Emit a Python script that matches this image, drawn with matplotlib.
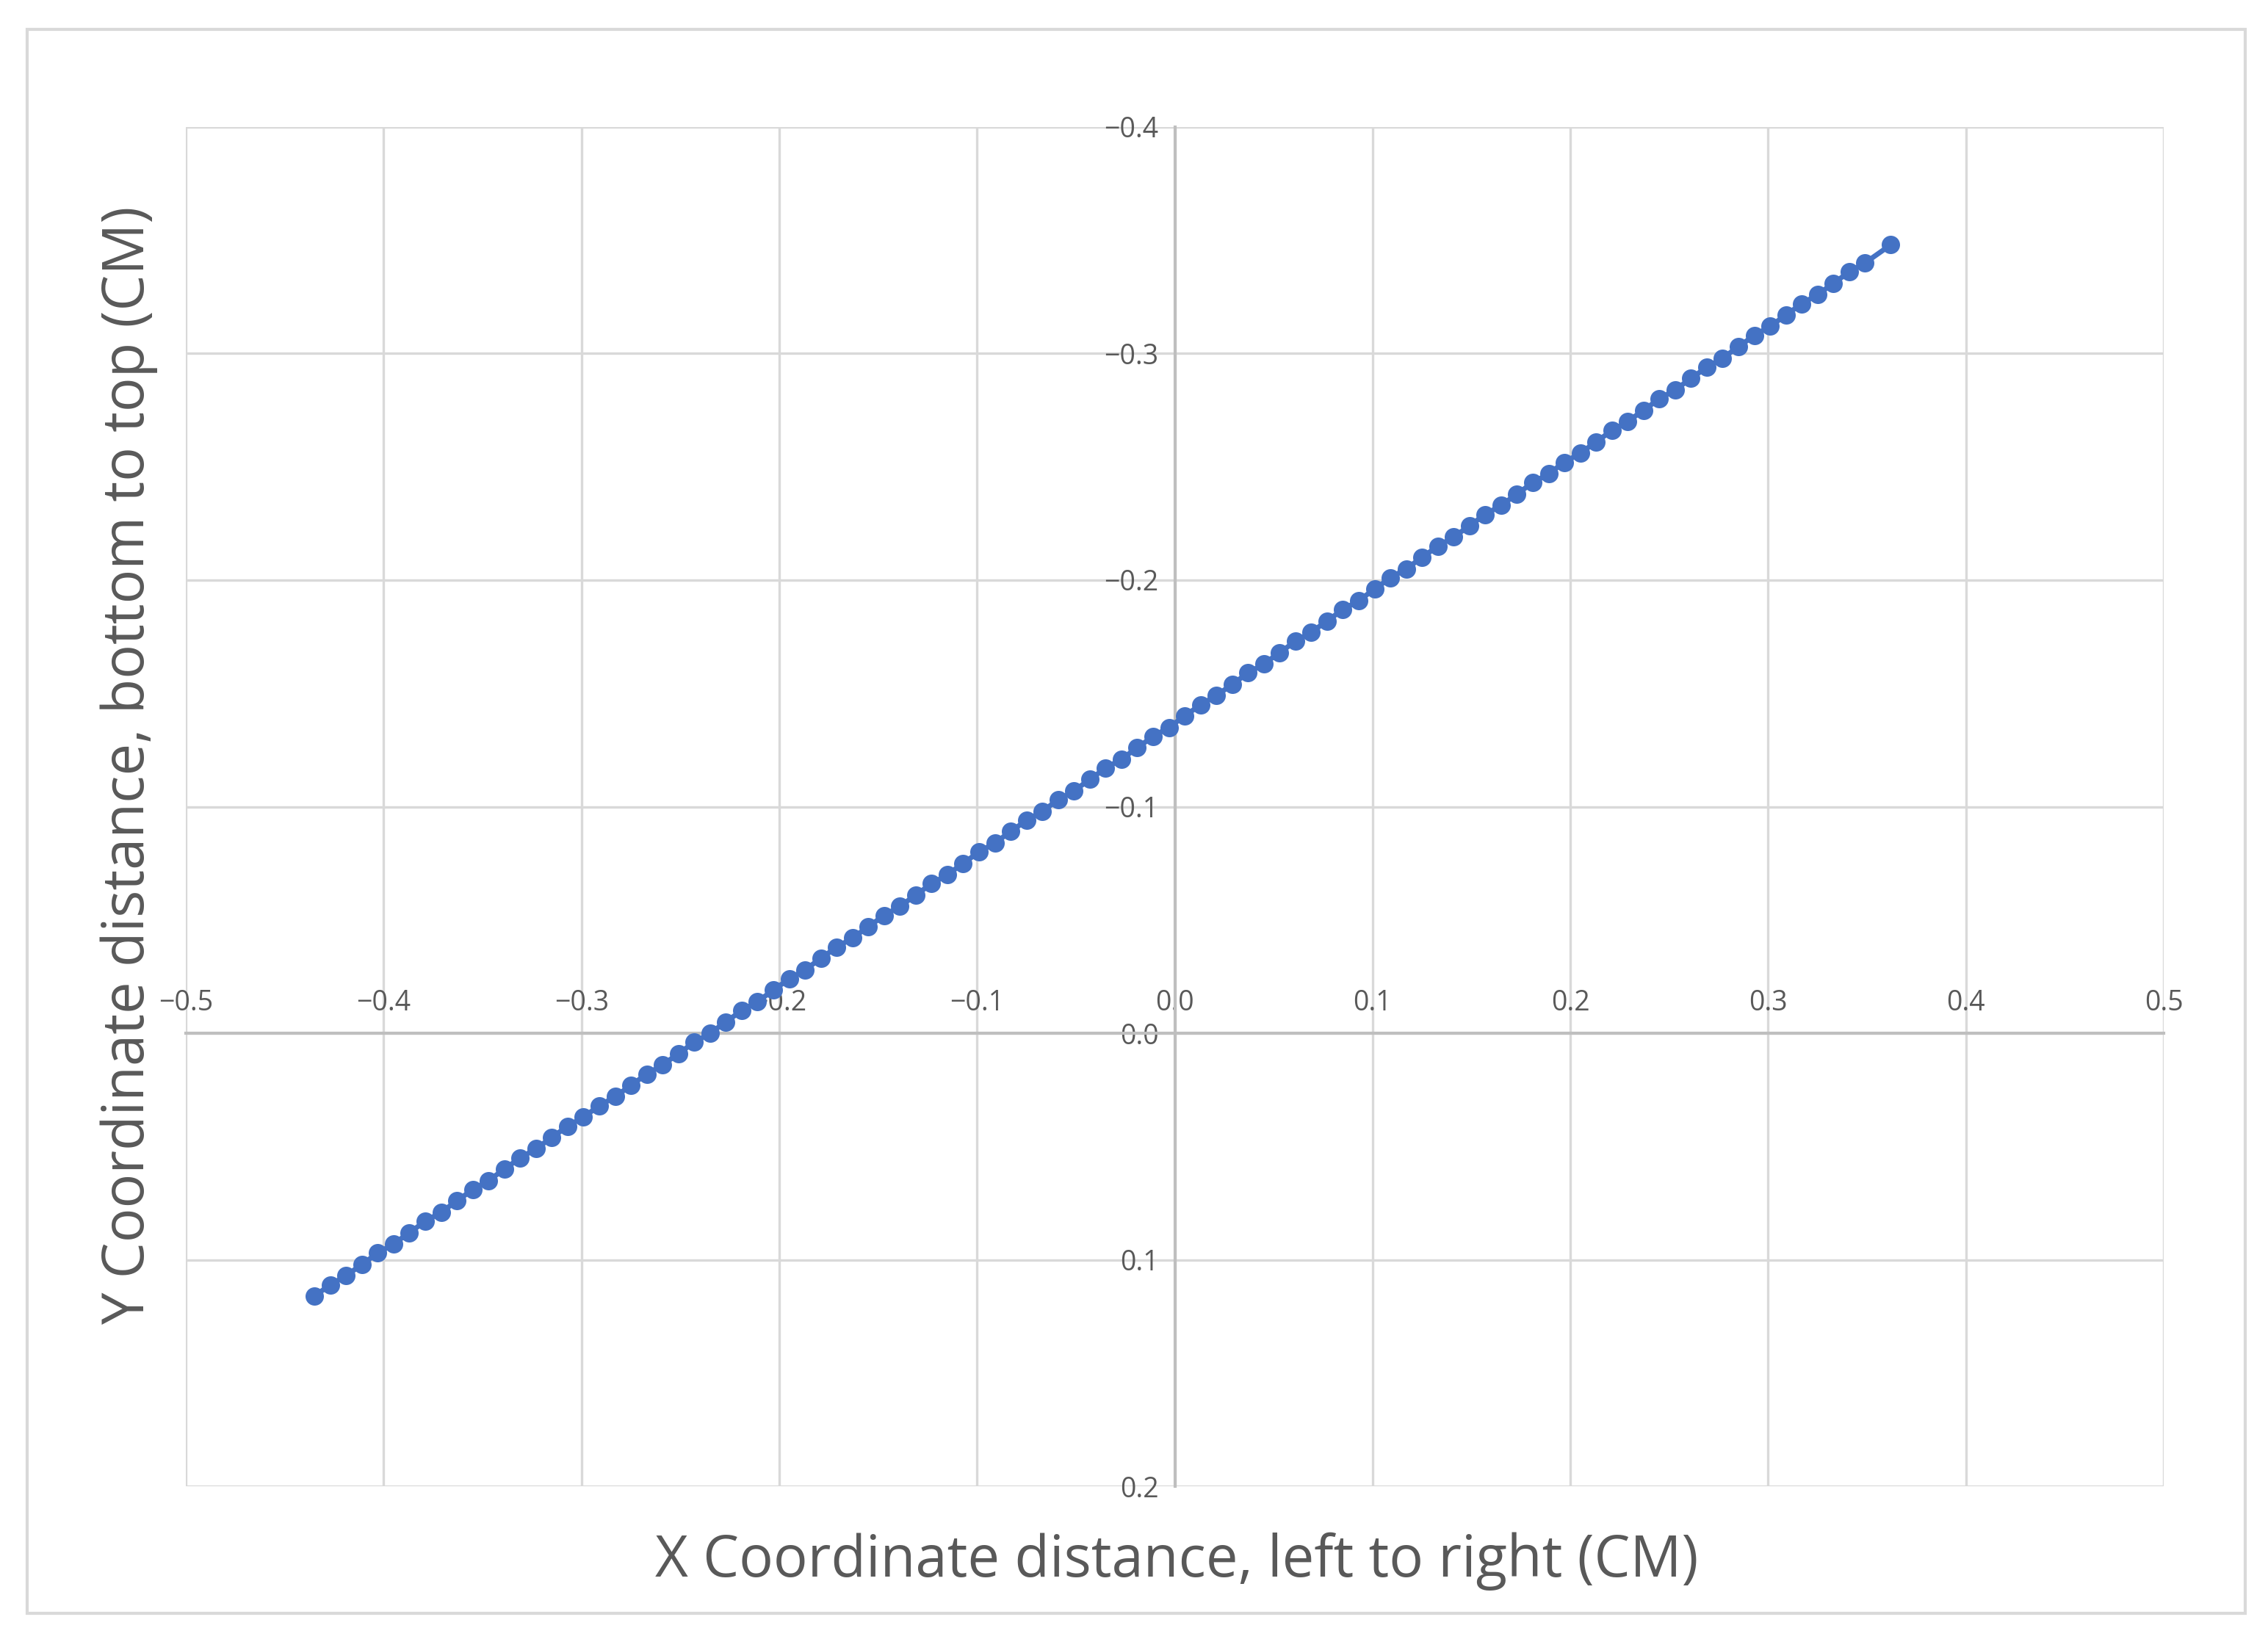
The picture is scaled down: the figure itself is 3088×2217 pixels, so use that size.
import matplotlib.pyplot as plt

# -----------------------------
# Data
# -----------------------------
x_cm = [-0.435, -0.427, -0.419, -0.411, -0.403, -0.395, -0.387, -0.379, -0.371, -0.363,
        -0.355, -0.347, -0.339, -0.331, -0.323, -0.315, -0.307, -0.299, -0.291, -0.283,
        -0.275, -0.267, -0.259, -0.251, -0.243, -0.235, -0.227, -0.219, -0.211, -0.203,
        -0.195, -0.187, -0.179, -0.171, -0.163, -0.155, -0.147, -0.139, -0.131, -0.123,
        -0.115, -0.107, -0.099, -0.091, -0.083, -0.075, -0.067, -0.059, -0.051, -0.043,
        -0.035, -0.027, -0.019, -0.011, -0.003, 0.005, 0.013, 0.021, 0.029, 0.037,
        0.045, 0.053, 0.061, 0.069, 0.077, 0.085, 0.093, 0.101, 0.109, 0.117,
        0.125, 0.133, 0.141, 0.149, 0.157, 0.165, 0.173, 0.181, 0.189, 0.197,
        0.205, 0.213, 0.221, 0.229, 0.237, 0.245, 0.253, 0.261, 0.269, 0.277,
        0.285, 0.293, 0.301, 0.309, 0.317, 0.325, 0.333, 0.341, 0.349, 0.362]
y_cm = [0.116, 0.111, 0.107, 0.102, 0.097, 0.093, 0.088, 0.083, 0.079, 0.074,
        0.069, 0.065, 0.060, 0.055, 0.051, 0.046, 0.041, 0.037, 0.032, 0.028,
        0.023, 0.018, 0.014, 0.009, 0.004, -0.000, -0.005, -0.010, -0.014, -0.019,
        -0.024, -0.028, -0.033, -0.038, -0.042, -0.047, -0.052, -0.056, -0.061, -0.066,
        -0.070, -0.075, -0.080, -0.084, -0.089, -0.094, -0.098, -0.103, -0.107, -0.112,
        -0.117, -0.121, -0.126, -0.131, -0.135, -0.140, -0.145, -0.149, -0.154, -0.159,
        -0.163, -0.168, -0.173, -0.177, -0.182, -0.187, -0.191, -0.196, -0.201, -0.205,
        -0.210, -0.215, -0.219, -0.224, -0.229, -0.233, -0.238, -0.243, -0.247, -0.252,
        -0.256, -0.261, -0.266, -0.270, -0.275, -0.280, -0.284, -0.289, -0.294, -0.298,
        -0.303, -0.308, -0.312, -0.317, -0.322, -0.326, -0.331, -0.336, -0.340, -0.348]
x_ticks = [-0.5, -0.4, -0.3, -0.2, -0.1, 0.0, 0.1, 0.2, 0.3, 0.4, 0.5]
y_ticks = [-0.4, -0.3, -0.2, -0.1, 0.0, 0.1, 0.2]

plt.rcParams['font.family'] = ['Open Sans', 'DejaVu Sans']
plt.rcParams['axes.unicode_minus'] = True

fig = plt.figure(figsize=(15.44, 11.085), dpi=200)
ax = fig.add_axes([0.082, 0.087, 0.872, 0.835])

ax.plot(x_cm, y_cm, color='#4472C4', linewidth=2.5, marker='o',
        markersize=8, zorder=3)

ax.set_xlim(-0.5, 0.5)
ax.set_ylim(0.2, -0.4)
ax.set_xticks(x_ticks)
ax.set_yticks(y_ticks)
ax.set_xticklabels([f'{v:.1f}'.replace('-', '\u2212') for v in x_ticks])
ax.set_yticklabels([f'{v:.1f}'.replace('-', '\u2212') for v in y_ticks])
ax.grid(True, color='#D9D9D9', linewidth=1.2)
ax.set_axisbelow(True)

# axes crossing at zero, Excel style
for side in ['bottom', 'right']:
    ax.spines[side].set_visible(False)
ax.spines['top'].set_position(('data', 0))
ax.spines['left'].set_position(('data', 0))
ax.spines['top'].set_color('#BFBFBF')
ax.spines['left'].set_color('#BFBFBF')
ax.spines['top'].set_linewidth(1.5)
ax.spines['left'].set_linewidth(1.5)
ax.xaxis.tick_top()
ax.tick_params(length=0, labelsize=13.5, labelcolor='#595959', pad=8)

fig.text(0.519, 0.041, 'X Coordinate distance, left to right (CM)',
         fontsize=28, color='#595959', ha='center', va='center')
fig.text(0.057, 0.53, 'Y Coordinate distance, bottom to top (CM)',
         fontsize=28, color='#595959', ha='center', va='center', rotation=90)

# outer chart border
fig.patches.append(plt.Rectangle((0.012, 0.009), 0.978, 0.973, transform=fig.transFigure,
                                 fill=False, edgecolor='#D9D9D9', linewidth=1.5))

fig.savefig('out.png', dpi=200)
